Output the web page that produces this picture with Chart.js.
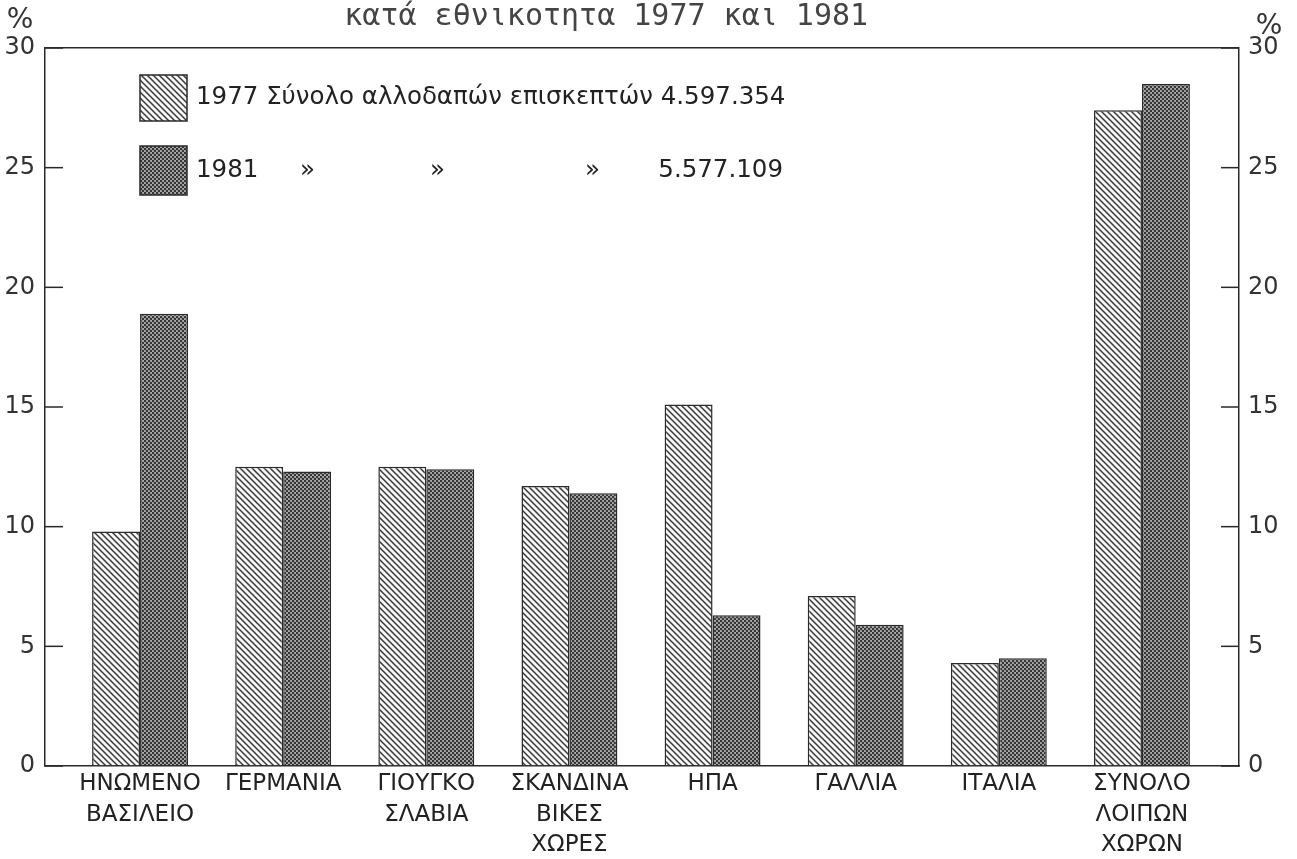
<!DOCTYPE html>
<html>
<head>
<meta charset="utf-8">
<script src="https://cdn.jsdelivr.net/npm/chart.js@4.4.1/dist/chart.umd.min.js"></script>
<style>
  html, body { margin: 0; padding: 0; background: #fff; }
</style>
</head>
<body>
<canvas id="barchart" width="1297" height="859"></canvas>
<script>
(function () {
 "use strict";

	/*----------------------------------------*/
	/*  data
	/*----------------------------------------*/
	var categories = [
		["ΗΝΩΜΕΝΟ", "ΒΑΣΙΛΕΙΟ"],
		["ΓΕΡΜΑΝΙΑ"],
		["ΓΙΟΥΓΚΟ", "ΣΛΑΒΙΑ"],
		["ΣΚΑΝΔΙΝΑ", "ΒΙΚΕΣ", "ΧΩΡΕΣ"],
		["ΗΠΑ"],
		["ΓΑΛΛΙΑ"],
		["ΙΤΑΛΙΑ"],
		["ΣΥΝΟΛΟ", "ΛΟΙΠΩΝ", "ΧΩΡΩΝ"]
	];
	var values1977 = [9.8, 12.5, 12.5, 11.7, 15.1, 7.1, 4.3, 27.4];
	var values1981 = [18.9, 12.3, 12.4, 11.4, 6.3, 5.9, 4.5, 28.5];
	var yMin = 0, yMax = 30, yStep = 5;
	var titleText = "κατά εθνικοτητα 1977 και 1981";
	var unitText = "%";
	var legend1977 = ["1977 Σύνολο αλλοδαπών επισκεπτών 4.597.354"];
	var legend1981 = ["1981", "»", "»", "»", "5.577.109"];

	var sansFont = "'DejaVu Sans', sans-serif";
	var monoFont = "'DejaVu Sans Mono', monospace";
	var ink = '#2a2a2a';

	/*----------------------------------------*/
	/*  fill patterns
	/*----------------------------------------*/
	function hatchPattern() {
		var c = document.createElement('canvas');
		c.width = 6; c.height = 6;
		var g = c.getContext('2d');
		g.fillStyle = '#f6f6f6';
		g.fillRect(0, 0, 6, 6);
		g.strokeStyle = '#3a3a3a';
		g.lineWidth = 1.5;
		g.beginPath();
		g.moveTo(-1, -1); g.lineTo(7, 7);
		g.moveTo(-1, 5); g.lineTo(1, 7);
		g.moveTo(5, -1); g.lineTo(7, 1);
		g.stroke();
		return g.createPattern(c, 'repeat');
	}

	function stipplePattern() {
		var c = document.createElement('canvas');
		c.width = 4; c.height = 4;
		var g = c.getContext('2d');
		g.fillStyle = '#a8a8a8';
		g.fillRect(0, 0, 4, 4);
		g.fillStyle = '#333';
		g.beginPath();
		g.arc(1, 1, 1.2, 0, Math.PI * 2);
		g.arc(3, 3, 1.2, 0, Math.PI * 2);
		g.fill();
		return g.createPattern(c, 'repeat');
	}

	var fill1977 = hatchPattern();
	var fill1981 = stipplePattern();

	function points(arr) {
		return arr.map(function (v, i) { return { x: i, y: v }; });
	}

	/*----------------------------------------*/
	/*  extra drawing: inward ticks, title, legend
	/*----------------------------------------*/
	var decor = {
		id: 'decor',
		afterDraw: function (chart) {
			var c = chart.ctx, a = chart.chartArea;
			c.save();

			// inward tick marks on both y axes
			c.strokeStyle = ink;
			c.lineWidth = 1.5;
			['y', 'y2'].forEach(function (id) {
				var s = chart.scales[id];
				s.ticks.forEach(function (t) {
					var p = s.getPixelForValue(t.value);
					c.beginPath();
					if (id === 'y') { c.moveTo(a.left, p); c.lineTo(a.left + 18, p); }
					else { c.moveTo(a.right, p); c.lineTo(a.right - 18, p); }
					c.stroke();
				});
			});

			// title
			c.fillStyle = '#444';
			c.font = "30px " + monoFont;
			c.textAlign = 'center';
			c.textBaseline = 'alphabetic';
			c.fillText(titleText, a.left + (a.right - a.left) * 0.47, 25);

			// % signs
			c.fillStyle = '#333';
			c.font = "28px " + sansFont;
			c.fillText(unitText, 20, 28);
			c.fillText(unitText, a.right + 30, 34);

			// legend
			var bx = a.left + 95, bw = 47;
			c.lineWidth = 1.5;
			c.strokeStyle = ink;
			c.fillStyle = fill1977;
			c.fillRect(bx, a.top + 27, bw, 46);
			c.strokeRect(bx, a.top + 27, bw, 46);
			c.fillStyle = fill1981;
			c.fillRect(bx, a.top + 98, bw, 49);
			c.strokeRect(bx, a.top + 98, bw, 49);

			c.fillStyle = '#222';
			c.font = "24.5px " + sansFont;
			c.textAlign = 'left';
			c.textBaseline = 'middle';
			c.fillText(legend1977[0], bx + 56, a.top + 50);
			var rowY = a.top + 123;
			c.fillText(legend1981[0], bx + 56, rowY);
			c.fillText(legend1981[1], bx + 160, rowY);
			c.fillText(legend1981[2], bx + 290, rowY);
			c.fillText(legend1981[3], bx + 445, rowY);
			c.textAlign = 'right';
			c.fillText(legend1981[4], bx + 643, rowY);

			c.restore();
		}
	};

	/*----------------------------------------*/
	/*  bar chart
	/*----------------------------------------*/
	var ctx = document.getElementById("barchart");
	var barchart = new Chart(ctx, {
		type: 'bar',
		data: {
			datasets: [{
				label: '1977',
				data: points(values1977),
				backgroundColor: fill1977,
				borderColor: ink,
				borderWidth: 1.5,
				borderSkipped: 'bottom'
			}, {
				label: '1981',
				data: points(values1981),
				backgroundColor: fill1981,
				borderColor: ink,
				borderWidth: 1.5,
				borderSkipped: 'bottom'
			}]
		},
		options: {
			responsive: false,
			animation: false,
			devicePixelRatio: 1,
			layout: { padding: { top: 48, left: 0, right: 0, bottom: 0 } },
			datasets: {
				bar: { barPercentage: 1.0, categoryPercentage: 0.67 }
			},
			plugins: {
				legend: { display: false },
				title: { display: false },
				tooltip: { enabled: false }
			},
			scales: {
				x: {
					type: 'linear',
					offset: false,
					min: -0.664,
					max: 7.678,
					grid: { display: false, drawTicks: false, offset: false },
					border: { display: true, color: ink, width: 1.5 },
					ticks: {
						stepSize: 1,
						includeBounds: false,
						autoSkip: false,
						maxRotation: 0,
						minRotation: 0,
						padding: 3,
						color: '#222',
						font: { family: sansFont, size: 23, lineHeight: 1.32 },
						callback: function (v) { return categories[v] || ''; }
					},
					afterFit: function (s) { s.height = 93; }
				},
				y: {
					position: 'left',
					min: yMin,
					max: yMax,
					grid: {
						drawTicks: false,
						color: function (c) { return c.tick && c.tick.value === yMax ? ink : 'rgba(0,0,0,0)'; },
						lineWidth: 1.5
					},
					border: { display: true, color: ink, width: 1.5 },
					ticks: {
						stepSize: yStep,
						padding: 10,
						color: '#333',
						font: { family: sansFont, size: 24 }
					},
					afterFit: function (s) { s.width = 45; }
				},
				y2: {
					position: 'right',
					min: yMin,
					max: yMax,
					grid: { display: false, drawTicks: false },
					border: { display: true, color: ink, width: 1.5 },
					ticks: {
						stepSize: yStep,
						padding: 9,
						color: '#333',
						font: { family: sansFont, size: 24 }
					},
					afterFit: function (s) { s.width = 58; }
				}
			}
		},
		plugins: [decor]
	});

})();
</script>
</body>
</html>
